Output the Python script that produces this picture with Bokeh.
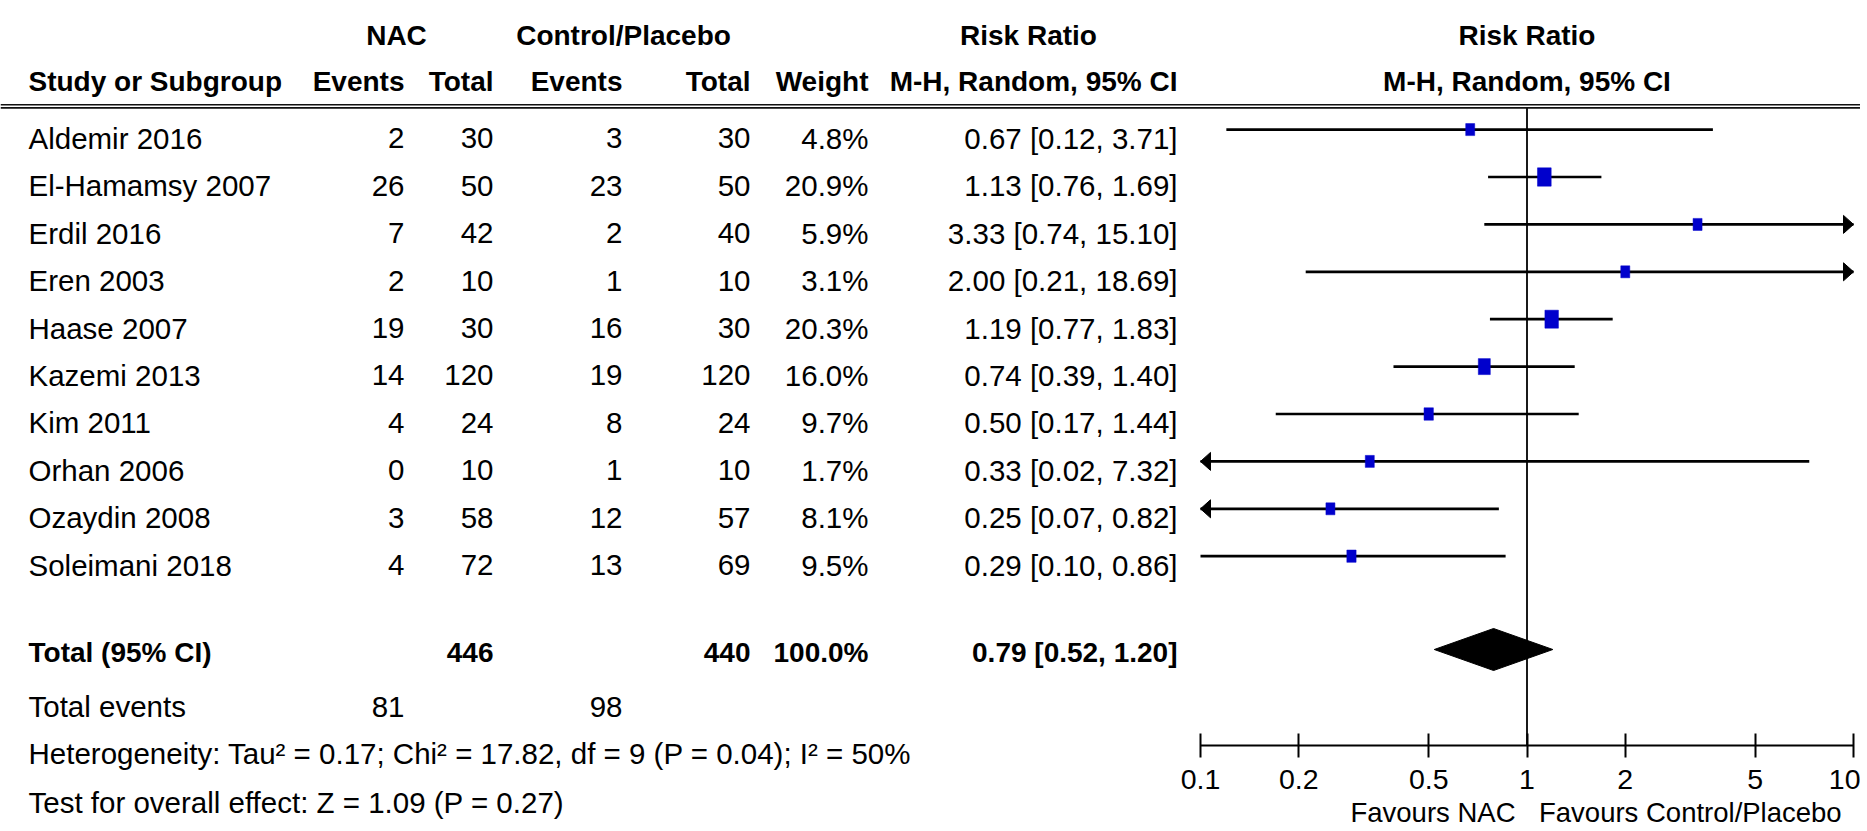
import math
from bokeh.plotting import figure
from bokeh.models import (Range1d, ColumnDataSource, FixedTicker, Span,
                          LogScale, LogAxis)
from bokeh.embed import file_html
from bokeh.resources import INLINE
from bokeh.core.properties import value

# ---------------- data ----------------
studies = ["Aldemir 2016", "El-Hamamsy 2007", "Erdil 2016", "Eren 2003", "Haase 2007",
           "Kazemi 2013", "Kim 2011", "Orhan 2006", "Ozaydin 2008", "Soleimani 2018"]
nac_events = [2, 26, 7, 2, 19, 14, 4, 0, 3, 4]
nac_total = [30, 50, 42, 10, 30, 120, 24, 10, 58, 72]
ctl_events = [3, 23, 2, 1, 16, 19, 8, 1, 12, 13]
ctl_total = [30, 50, 40, 10, 30, 120, 24, 10, 57, 69]
weights = [4.8, 20.9, 5.9, 3.1, 20.3, 16.0, 9.7, 1.7, 8.1, 9.5]
rr = [0.67, 1.13, 3.33, 2.00, 1.19, 0.74, 0.50, 0.33, 0.25, 0.29]
rr_lo = [0.12, 0.76, 0.74, 0.21, 0.77, 0.39, 0.17, 0.02, 0.07, 0.10]
rr_hi = [3.71, 1.69, 15.10, 18.69, 1.83, 1.40, 1.44, 7.32, 0.82, 0.86]

total_label = "Total (95% CI)"
total_nac = 446
total_ctl = 440
total_weight = 100.0
total_rr = 0.79
total_lo = 0.52
total_hi = 1.20
events_label = "Total events"
events_nac = 81
events_ctl = 98
heterogeneity = "Heterogeneity: Tau\u00b2 = 0.17; Chi\u00b2 = 17.82, df = 9 (P = 0.04); I\u00b2 = 50%"
overall = "Test for overall effect: Z = 1.09 (P = 0.27)"

tick_values = [0.1, 0.2, 0.5, 1, 2, 5, 10]
tick_labels = ["0.1", "0.2", "0.5", "1", "2", "5", "10"]
axis_min, axis_max = 0.1, 10
favours_left = "Favours NAC"
favours_right = "Favours Control/Placebo"

# ---------------- layout constants (screen pixels, canvas at page origin) ----------------
FONT = "Liberation Sans"
FS_N = 29.5
FS_B = 28.0
FS_AX = 28.5
FS_FAV = 27.5
SHIFT = 0.35           # renderer places alphabetic text this many em low; compensate
W, H = 1860, 829
AXIS_Y = 745
DEC = 326.5            # pixels per decade on the ratio axis
X01 = 1200             # screen x of 0.1
X10 = 1853             # screen x of 10

ROW_STEP = 47.4
FIRST_BASE = 148.3
MARK_UP = 19.2
HEAD1, HEAD2 = 45, 91
TOTAL_BASE = 661.7
DIAMOND_Y, DIAMOND_HALF = 649, 21
EVENTS_BASE = 716.7
HET_BASE = 763.3
TEST_BASE = 812.3
FAV_BASE = 822
LINE_A, LINE_B = 104.3, 107.3

LEFT = 28
C_NE, C_NT, C_CE, C_CT, C_W, C_RR = 404, 493, 622, 750, 868, 1177


def fmt_rr(a, b, c):
    return f"{a:.2f} [{b:.2f}, {c:.2f}]"


bases = [FIRST_BASE + ROW_STEP * i for i in range(len(studies))]

p = figure(width=W, height=H, x_range=Range1d(0, W), y_range=Range1d(AXIS_Y, 0),
           toolbar_location=None, output_backend="svg",
           min_border_left=0, min_border_right=0, min_border_top=0,
           min_border_bottom=H - AXIS_Y,
           x_axis_location=None, y_axis_location=None, outline_line_color=None)
p.grid.grid_line_color = None

rr_start = 10 ** (math.log10(axis_min) - X01 / DEC)
rr_end = 10 ** (math.log10(axis_max) + (W - X10) / DEC)
p.extra_x_ranges = {"rr": Range1d(rr_start, rr_end)}
p.extra_x_scales = {"rr": LogScale()}


def add_text(xs, ys, texts, align, bold, size, range_name="default", level="glyph", dx=0):
    src = ColumnDataSource(dict(x=xs, y=[y - SHIFT * size for y in ys], t=texts))
    p.text(x="x", y="y", text="t", source=src, text_align=align, text_baseline="alphabetic",
           text_font=value(FONT), text_font_size=f"{size}px",
           text_font_style="bold" if bold else "normal", text_color="#000000",
           x_offset=dx, x_range_name=range_name, level=level)


# header rule (double line) across the whole width
for loc, w in [(LINE_A, 1.6), (LINE_B, 1.8)]:
    p.add_layout(Span(location=loc, dimension="width", line_color="#111111", line_width=w))

# ---- table
add_text([LEFT] * (len(studies) + 1), bases + [EVENTS_BASE],
         studies + [events_label], "left", False, FS_N)
add_text([LEFT, LEFT], [HEAD2, TOTAL_BASE], ["Study or Subgroup", total_label], "left", True, FS_B)
xs, ys, ts = [], [], []
for i in range(len(studies)):
    for cx, t in [(C_NE, str(nac_events[i])), (C_NT, str(nac_total[i])),
                  (C_CE, str(ctl_events[i])), (C_CT, str(ctl_total[i])),
                  (C_W, f"{weights[i]:.1f}%"), (C_RR, fmt_rr(rr[i], rr_lo[i], rr_hi[i]))]:
        xs.append(cx); ys.append(bases[i]); ts.append(t)
xs += [C_NE, C_CE]; ys += [EVENTS_BASE, EVENTS_BASE]; ts += [str(events_nac), str(events_ctl)]
add_text(xs, ys, ts, "right", False, FS_N)
add_text([C_NE, C_NT, C_CE, C_CT, C_W, C_RR], [HEAD2] * 6,
         ["Events", "Total", "Events", "Total", "Weight", "M-H, Random, 95% CI"], "right", True, FS_B)
add_text([C_NT, C_CT, C_W, C_RR], [TOTAL_BASE] * 4,
         [str(total_nac), str(total_ctl), f"{total_weight:.1f}%", fmt_rr(total_rr, total_lo, total_hi)],
         "right", True, FS_B)
add_text([396, 623, 1028], [HEAD1] * 3, ["NAC", "Control/Placebo", "Risk Ratio"], "center", True, FS_B)
# footnotes sit below the plotting frame: draw them unclipped
add_text([LEFT, LEFT], [HET_BASE, TEST_BASE], [heterogeneity, overall], "left", False, FS_N,
         level="overlay")

# ---------------- forest part (log scale) ----------------
add_text([1, 1], [HEAD1, HEAD2], ["Risk Ratio", "M-H, Random, 95% CI"], "center", True, FS_B, "rr")

p.segment(x0=[1], x1=[1], y0=[LINE_B], y1=[AXIS_Y], line_color="#000000", line_width=1.8,
          x_range_name="rr")

ys_mark = [b - MARK_UP for b in bases]
lo_c = [max(v, axis_min) for v in rr_lo]
hi_c = [min(v, axis_max) for v in rr_hi]
p.segment(x0=lo_c, x1=hi_c, y0=ys_mark, y1=ys_mark, line_color="#000000", line_width=2.7,
          x_range_name="rr")

HEAD_LEN, HEAD_HALF = 10, 9
k = 10 ** (HEAD_LEN / DEC)
axs, ays = [], []
for i in range(len(studies)):
    y = ys_mark[i]
    if rr_hi[i] > axis_max:
        axs.append([axis_max, axis_max / k, axis_max / k]); ays.append([y, y - HEAD_HALF, y + HEAD_HALF])
    if rr_lo[i] < axis_min:
        axs.append([axis_min, axis_min * k, axis_min * k]); ays.append([y, y - HEAD_HALF, y + HEAD_HALF])
p.patches(xs=axs, ys=ays, fill_color="#000000", line_color="#000000", line_width=1,
          x_range_name="rr")

hs = [max(12.0, 4.0 * math.sqrt(w)) for w in weights]
ws = [0.75 * h for h in hs]
p.rect(x=rr, y=ys_mark, width=ws, height=hs, width_units="screen", height_units="screen",
       fill_color="#0000CC", line_color="#0000CC", line_width=0.5, x_range_name="rr")

p.patch(x=[total_lo, total_rr, total_hi, total_rr],
        y=[DIAMOND_Y, DIAMOND_Y - DIAMOND_HALF, DIAMOND_Y, DIAMOND_Y + DIAMOND_HALF],
        fill_color="#000000", line_color="#000000", line_width=1, x_range_name="rr")

ax = LogAxis(x_range_name="rr")
ax.ticker = FixedTicker(ticks=tick_values, minor_ticks=[])
ax.major_label_overrides = {v: l for v, l in zip(tick_values, tick_labels)}
ax.bounds = (axis_min, axis_max)
ax.major_tick_in = 12
ax.major_tick_out = 12
ax.axis_line_width = 2
ax.axis_line_color = "#000000"
ax.major_tick_line_width = 2
ax.major_tick_line_color = "#000000"
ax.minor_tick_line_color = None
ax.major_label_text_font = FONT
ax.major_label_text_font_size = f"{FS_AX}px"
ax.major_label_text_color = "#000000"
ax.major_label_standoff = 12
p.add_layout(ax, "below")

add_text([1], [FAV_BASE], [favours_left], "right", False, FS_FAV, "rr", level="overlay", dx=-11.5)
add_text([1], [FAV_BASE], [favours_right], "left", False, FS_FAV, "rr", level="overlay", dx=12)

open("out.html", "w").write(file_html(p, INLINE))
